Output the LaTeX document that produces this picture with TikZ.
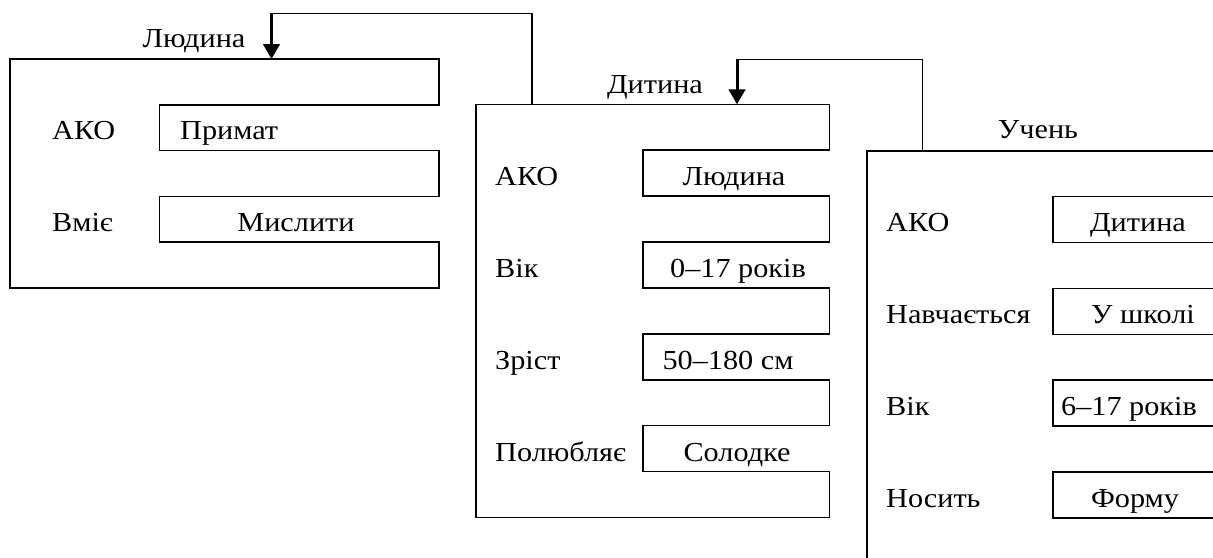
\documentclass[tikz,border=0pt]{standalone}
\usepackage{fontspec}
\setmainfont{Liberation Serif}[FakeStretch=1.1]
\usetikzlibrary{arrows.meta}

\tikzset{
  frame/.style={draw=black, line width=1.6pt, line join=miter},
  link/.style={draw=black, line width=1.6pt},
  linkarrow/.style={draw=black, line width=3pt, -{Triangle[width=16.5pt,length=15pt]}},
  slot/.style={anchor=base west, inner sep=0pt},
  val/.style={anchor=base, inner sep=0pt},
  title/.style={anchor=base, inner sep=0pt},
}

\begin{document}
\begin{tikzpicture}[x=1pt, y=-1pt, font=\fontsize{27.5}{32}\selectfont]
\useasboundingbox (0,0) rectangle (1213,557);
\begin{scope}
\clip (0,0) rectangle (1213,557);

% frame "Людина"
\draw[frame] (10,59) -- (439,59) -- (439,104.8) -- (159.5,104.8) -- (159.5,150.6)
  -- (439,150.6) -- (439,196.4) -- (159.5,196.4) -- (159.5,242.2) -- (439,242.2)
  -- (439,288) -- (10,288) -- cycle;
\node[title] (t1) at (194,47.5) {Людина};
\node[slot] (s11) at (52,139.5) {АКО};
\node[slot] (v11) at (180,139.5) {Примат};
\node[slot] (s12) at (52,231.3) {Вміє};
\node[val]  (v12) at (296,231.3) {Мислити};

% frame "Дитина"
\draw[frame] (476,104.3) -- (829.3,104.3) -- (829.3,150.2) -- (643,150.2) -- (643,196.1)
  -- (829.3,196.1) -- (829.3,242) -- (643,242) -- (643,287.9) -- (829.3,287.9)
  -- (829.3,333.8) -- (643,333.8) -- (643,379.7) -- (829.3,379.7) -- (829.3,425.6)
  -- (643,425.6) -- (643,471.5) -- (829.3,471.5) -- (829.3,517.4) -- (476,517.4) -- cycle;
\node[title] (t2) at (655,93.3) {Дитина};
\node[slot] (s21) at (495,185) {АКО};
\node[val]  (v21) at (734,185) {Людина};
\node[slot] (s22) at (495,277) {Вік};
\node[val]  (v22) at (738,277) {0–17 років};
\node[slot] (s23) at (495,369) {Зріст};
\node[val]  (v23) at (728,369) {50–180 см};
\node[slot] (s24) at (495,461) {Полюбляє};
\node[val]  (v24) at (737,461) {Солодке};

% frame "Учень"
\draw[frame] (866.7,150.7) -- (1225,150.7) -- (1225,196.6) -- (1052.7,196.6) -- (1052.7,242.5)
  -- (1225,242.5) -- (1225,288.4) -- (1052.7,288.4) -- (1052.7,334.3) -- (1225,334.3)
  -- (1225,380.2) -- (1052.7,380.2) -- (1052.7,426.1) -- (1225,426.1) -- (1225,472)
  -- (1052.7,472) -- (1052.7,517.9) -- (1225,517.9) -- (1225,563.8) -- (866.7,563.8) -- cycle;
\node[title] (t3) at (1038,138.5) {Учень};
\node[slot] (s31) at (886,231.5) {АКО};
\node[val]  (v31) at (1138,231.5) {Дитина};
\node[slot] (s32) at (886,323) {Навчається};
\node[val]  (v32) at (1143,323) {У школі};
\node[slot] (s33) at (886,415) {Вік};
\node[slot] (v33) at (1061,415) {6–17 років};
\node[slot] (s34) at (886,507) {Носить};
\node[val]  (v34) at (1135,507) {Форму};
\end{scope}

% inheritance links between frames
\coordinate (in1) at (271.5,59);
\coordinate (bend1) at (271.5,13.3);
\coordinate (out2) at (531.7,104.3);
\coordinate (in2) at (737,104.3);
\coordinate (bend2) at (737,59.3);
\coordinate (out3) at (922.5,150.7);

\draw[link] (out2) |- (bend1);
\draw[linkarrow] (bend1) -- (in1);
\draw[link] (out3) |- (bend2);
\draw[linkarrow] (bend2) -- (in2);
\end{tikzpicture}
\end{document}
